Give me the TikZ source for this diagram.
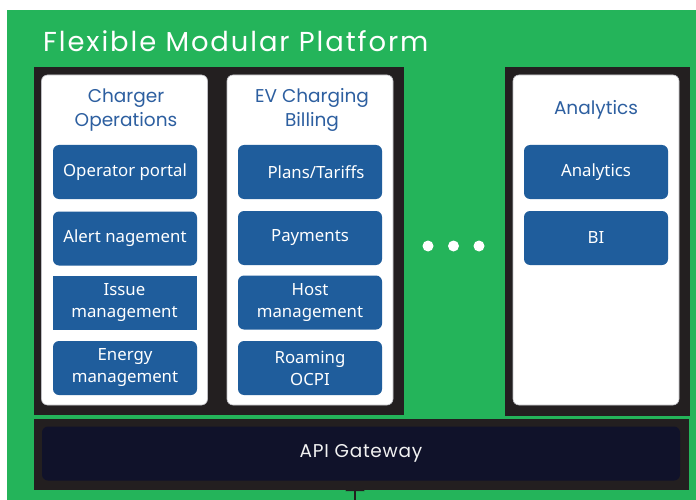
\documentclass[tikz,border=0pt]{standalone}
\usepackage{fontspec}
\setmainfont{Noto Sans}
\newfontfamily\titlefont{Poppins}
\newfontfamily\bigtitlefont[LetterSpace=7]{Poppins}
\newfontfamily\gwfont[LetterSpace=4]{Poppins}
\usetikzlibrary{arrows.meta}
\definecolor{bggreen}{RGB}{36,180,90}
\definecolor{darkblk}{RGB}{35,31,32}
\definecolor{modblue}{RGB}{31,93,156}
\definecolor{ttlblue}{RGB}{45,95,160}
\definecolor{gwnavy}{RGB}{16,18,42}
\definecolor{cardedge}{RGB}{190,190,195}
\begin{document}
\begin{tikzpicture}[x=1pt,y=-1pt,
  darkblock/.style={fill=darkblk,draw=none,inner sep=0pt},
  card/.style={fill=white,draw=cardedge,line width=0.6pt,rounded corners=6pt,inner sep=0pt,minimum width=166pt,minimum height=330pt},
  module/.style={fill=modblue,draw=none,rounded corners=6pt,inner sep=0pt,minimum width=144pt,minimum height=54pt,text=white,align=center,font=\fontsize{16.8}{22}\selectfont},
  sqmodule/.style={module,rounded corners=0pt},
  cardtitle/.style={text=ttlblue,align=center,font=\titlefont\fontsize{18.5}{24}\selectfont},
  dot/.style={circle,fill=white,draw=none,minimum size=11pt,inner sep=0pt}]
\useasboundingbox (0,0) rectangle (696,500);
\fill[white] (0,0) rectangle (696,500);
\fill[bggreen] (7,10) rectangle (696,500);
\node[anchor=base west,text=white,inner sep=0pt,font=\bigtitlefont\fontsize{27.4}{32}\selectfont] (title) at (43,52) {Flexible Modular Platform};
% arrow (drawn first, head partly hidden by the gateway block)
\coordinate (src) at (355,500);
\coordinate (tipend) at (355,481);
\draw[darkblk,line width=2pt,-{Triangle[length=10pt,width=19pt]}] (src) -- (tipend);
% dark blocks
\node[darkblock,minimum width=370pt,minimum height=348pt] (leftblk) at (219,241) {};
\node[darkblock,minimum width=185pt,minimum height=349pt] (rightblk) at (597.5,241.5) {};
\node[darkblock,minimum width=655pt,minimum height=71pt] (gwblk) at (361.5,454) {};
\node[fill=gwnavy,rounded corners=6pt,inner sep=0pt,minimum width=638pt,minimum height=54pt,text=white!90!gray,font=\gwfont\fontsize{18.5}{20}\selectfont] (gw) at (361,453.5) {API Gateway};
% cards
\node[card] (card1) at (124.5,240) {};
\node[card] (card2) at (310,240) {};
\node[card] (card3) at (596,240) {};
\node[cardtitle] (t1) at (126,110) {Charger\\Operations};
\node[cardtitle] (t2) at (312,110) {EV Charging\\Billing};
\node[cardtitle] (t3) at (596,110) {Analytics};
% modules column 1
\node[module] (op) at (125,172) {Operator portal};
\node[module] (alert) at (125,238.5) {Alert nagement};
\node[sqmodule] (issue) at (124.5,303) {Issue\\management};
\node[module] (energy) at (125,368) {Energy\\management};
% modules column 2
\node[module] (plans) at (310,172) {\hspace*{12pt}Plans/Tariffs};
\node[module] (pay) at (310,238) {Payments};
\node[module] (host) at (310,302.5) {Host\\management};
\node[module] (roam) at (310,368) {Roaming\\OCPI};
% modules column 3
\node[module] (ana) at (596,172) {Analytics};
\node[module] (bi) at (596,238) {BI};
% dots
\node[dot] (d1) at (428,246) {};
\node[dot] (d2) at (453.5,246) {};
\node[dot] (d3) at (479,246) {};
\end{tikzpicture}
\end{document}
